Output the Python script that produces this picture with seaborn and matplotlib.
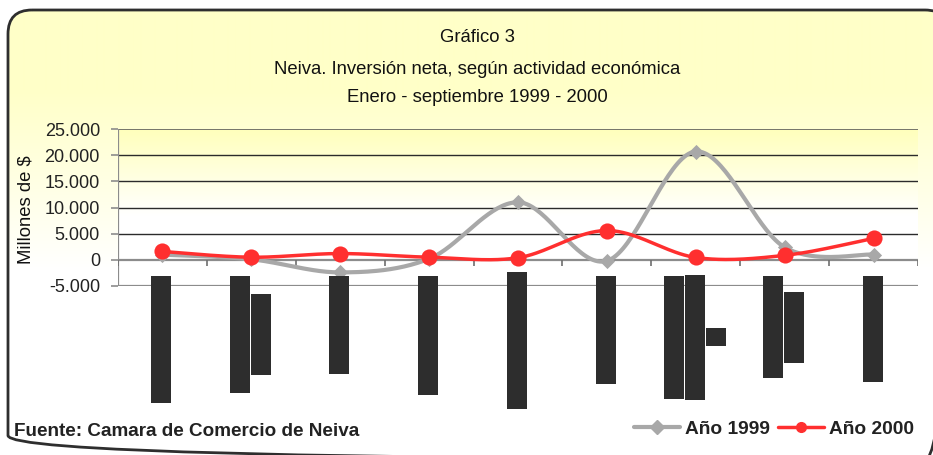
import numpy as np
import pandas as pd
import matplotlib
matplotlib.use("Agg")
import matplotlib.pyplot as plt
from matplotlib.patches import FancyBboxPatch, Rectangle
from matplotlib.lines import Line2D
from matplotlib.colors import to_rgb
import seaborn as sns

# ---------------- data ----------------
categories = ["Act. 1", "Act. 2", "Act. 3", "Act. 4", "Act. 5",
              "Act. 6", "Act. 7", "Act. 8", "Act. 9"]
anio_1999 = [1000, 100, -2400, 200, 11000, -200, 20700, 2400, 1000]
anio_2000 = [1600, 500, 1200, 500, 400, 5600, 450, 850, 4100]
ytick_values = [-5000, 0, 5000, 10000, 15000, 20000, 25000]
ytick_labels = ["-5.000", "0", "5.000", "10.000", "15.000", "20.000", "25.000"]
series_names = ["Año 1999", "Año 2000"]
title_lines = ["Gráfico 3",
               "Neiva. Inversión neta, según actividad económica",
               "Enero - septiembre 1999 - 2000"]
source_text = "Fuente: Camara de Comercio de Neiva"
ylabel_text = "Millones de $"

# ---------------- style ----------------
sns.set_theme(style="white")
plt.rcParams["font.family"] = ["Liberation Sans", "DejaVu Sans"]

W, H = 933, 455
fig = plt.figure(figsize=(W / 100, H / 100), dpi=100)
fig.patch.set_facecolor("white")

def fy(y):
    return 1 - y / H

YELLOW = np.array(to_rgb("#ffffc8"))
WHITE = np.array([1.0, 1.0, 1.0])

# background axes in pixel coordinates
bg = fig.add_axes([0, 0, 1, 1], zorder=-5)
bg.set_xlim(0, W)
bg.set_ylim(H, 0)
bg.axis("off")
rows = np.arange(H)
t = np.clip((rows - 90) / (270 - 90), 0, 1)[:, None]
grad = YELLOW * (1 - t) + WHITE * t
img = np.repeat(grad[:, None, :], 2, axis=1)
im = bg.imshow(img, extent=(0, W, H, 0), aspect="auto", interpolation="bilinear")
box = FancyBboxPatch((8, 10), 941, 449.5, boxstyle="round,pad=0,rounding_size=24",
                     transform=bg.transData, facecolor="none",
                     edgecolor="#2e2e2e", linewidth=2)
bg.add_patch(box)
im.set_clip_path(box)

# plot area
ax = fig.add_axes([118 / W, fy(286), 800 / W, 157 / H], zorder=1)
ax.patch.set_visible(False)
ax.set_xlim(-0.5, len(categories) - 0.5)
ax.set_ylim(-5000, 25000)
PY = np.array(to_rgb("#ffffbc"))
r2 = np.linspace(0, 1, 200)
t2 = np.clip(r2 / 0.55, 0, 1)[:, None]
g2 = PY * (1 - t2) + WHITE * t2
ax.imshow(np.repeat(g2[:, None, :], 2, axis=1), extent=(-0.5, len(categories) - 0.5, -5000, 25000),
          aspect="auto", origin="upper", zorder=0, interpolation="bilinear")

for v in ytick_values:
    if v in (0, -5000):
        ax.axhline(v, color="#8c8c8c", lw=1.6, zorder=1)
    elif v == 25000:
        ax.axhline(v, color="#75756a", lw=1.4, zorder=1)
    else:
        ax.axhline(v, color="#2b2b2b", lw=1.0, zorder=1)
ax.axvline(-0.5, color="#8c8c8c", lw=1.6, zorder=1)
bounds = np.arange(-0.5, len(categories), 1.0)
ax.vlines(bounds, -1150, 0, color="#6e6e6e", lw=1.2, zorder=1)

for s in ax.spines.values():
    s.set_visible(False)
ax.set_xticks([])
ax.set_yticks(ytick_values)
ax.set_yticklabels(ytick_labels)
ax.tick_params(axis="y", direction="out", length=5, color="#8c8c8c", width=1.2,
               labelsize=13, pad=8, labelcolor="#222222", left=True)
ax.grid(False)

def smooth(xs, ys, n=40):
    xs = np.asarray(xs, float)
    ys = np.asarray(ys, float)
    P = np.column_stack([xs, ys])
    out = []
    for i in range(len(P) - 1):
        p0 = P[i - 1] if i > 0 else P[i]
        p1 = P[i]
        p2 = P[i + 1]
        p3 = P[i + 2] if i + 2 < len(P) else P[i + 1]
        c1 = p1 + (p2 - p0) / 6
        c2 = p2 - (p3 - p1) / 6
        tt = np.linspace(0, 1, n)[:, None]
        seg = ((1 - tt) ** 3) * p1 + 3 * ((1 - tt) ** 2) * tt * c1 + 3 * (1 - tt) * tt ** 2 * c2 + tt ** 3 * p2
        out.append(seg if i == 0 else seg[1:])
    out = np.vstack(out)
    return out[:, 0], out[:, 1]

df = pd.DataFrame({"pos": np.arange(len(categories)), "cat": categories,
                   "y1999": anio_1999, "y2000": anio_2000})

GRAY = "#a8a8a8"
RED = "#ff2f2f"
sx, sy = smooth(df["pos"], df["y1999"])
ax.plot(sx, sy, color=GRAY, lw=3, zorder=3, solid_capstyle="round")
sns.scatterplot(data=df, x="pos", y="y1999", marker="D", s=60, color=GRAY,
                edgecolor=GRAY, linewidth=0, ax=ax, zorder=4, legend=False)
sx, sy = smooth(df["pos"], df["y2000"])
ax.plot(sx, sy, color=RED, lw=2.5, zorder=5, solid_capstyle="round")
sns.scatterplot(data=df, x="pos", y="y2000", marker="o", s=135, color=RED,
                edgecolor=RED, linewidth=0, ax=ax, zorder=6, legend=False)
ax.set_xlabel("")
ax.set_ylabel("")
ax.set_xlim(-0.5, len(categories) - 0.5)
ax.set_ylim(-5000, 25000)

# unreadable (blacked-out) rotated category labels, drawn as blocks
block_lines = [[127], [117, 81], [98], [119], [137], [108], [123, 125, 18], [102, 71], [106]]
block_centers = [339, 334, 325, 335, 340, 330, 337, 327, 329]
for i, (lines, cy) in enumerate(zip(block_lines, block_centers)):
    cx = 118 + (i + 0.5) * 800 / len(categories)
    n = len(lines)
    total = n * 20 + (n - 1) * 1
    x0 = cx - total / 2 - 1
    for j, L in enumerate(lines):
        xl = x0 + j * 21
        y_top = cy - L / 2
        fig.add_artist(Rectangle((xl / W, fy(y_top + L)), 20 / W, L / H,
                                 transform=fig.transFigure, facecolor="#2d2d2d",
                                 edgecolor="none", zorder=3))

# titles
for txt, yy in zip(title_lines, [38, 70, 98]):
    fig.text(477 / W, fy(yy), txt, ha="center", va="center", fontsize=13.3, color="#111111")
fig.text(26 / W, fy(210), ylabel_text, rotation=90, ha="center", va="center",
         fontsize=13.3, color="#111111")
fig.text(14 / W, fy(432), source_text, ha="left", va="center", fontsize=13.6,
         fontweight="bold", color="#222222")

handles = [Line2D([0], [0], color=GRAY, lw=3, marker="D", ms=7, mfc=GRAY, mec=GRAY),
           Line2D([0], [0], color=RED, lw=2.5, marker="o", ms=7, mfc=RED, mec=RED)]
leg = fig.legend(handles, series_names, loc="center right", bbox_to_anchor=(914 / W, fy(429)),
                 ncol=2, frameon=False, handlelength=2.4, handletextpad=0.25,
                 columnspacing=0.45, borderpad=0, borderaxespad=0,
                 prop={"weight": "bold", "size": 13.8})
for tx in leg.get_texts():
    tx.set_color("#222222")

fig.savefig("out.png", dpi=100)
